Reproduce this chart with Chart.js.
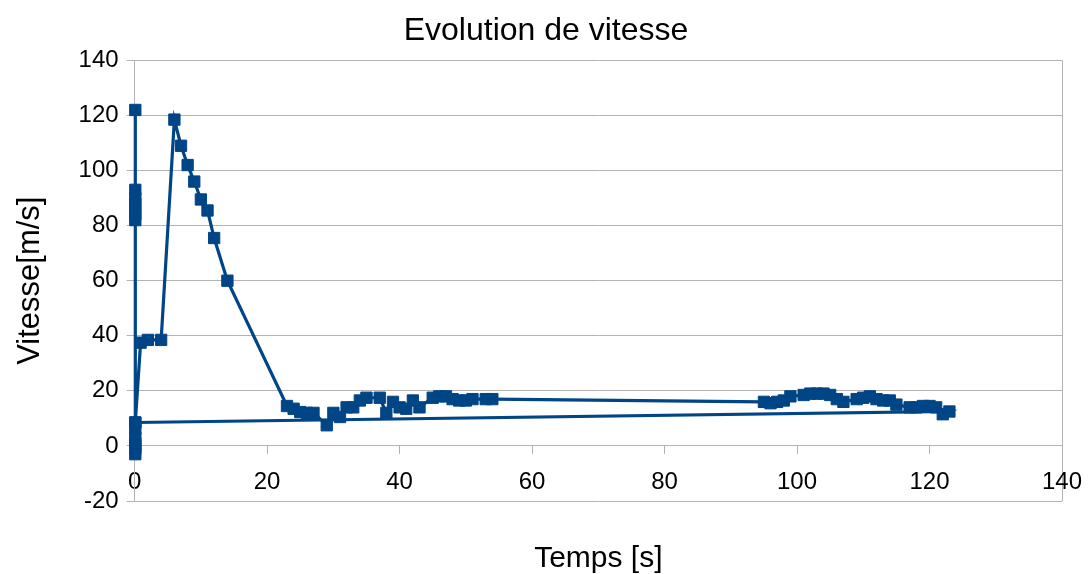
<!DOCTYPE html>
<html>
<head>
<meta charset="utf-8">
<script src="https://cdn.jsdelivr.net/npm/chart.js@4/dist/chart.umd.min.js"></script>
<style>
  html, body { margin: 0; padding: 0; background: #ffffff; }
  #wrap { width: 1092px; height: 574px; position: relative; }
</style>
</head>
<body>
<div id="wrap"><canvas id="c" width="1092" height="574"></canvas></div>
<script>
// ---- data ----
const chartTitle = "Evolution de vitesse";
const xTitle = "Temps [s]";
const yTitle = "Vitesse[m/s]";
const temps = [
  0.1, 0.1, 0.1, 0.1, 0.1, 0.1, 0.1, 0.1, 0.1, 0.1, 0.1, 0.1, 0.1, 0.1,
  0.9, 2, 4, 6, 7, 8, 9, 10, 11, 12, 14,
  23, 24, 25, 26, 27, 29, 30, 31, 32, 33, 34, 35, 37, 38, 39, 40, 41, 42, 43,
  45, 46, 47, 48, 49, 50, 51, 53, 54,
  95, 96, 97, 98, 99, 101, 102, 103, 104, 105, 106, 107, 109, 110, 111, 112,
  113, 114, 115, 117, 118, 119, 120, 121, 122, 123,
  0.1
];
const vitesse = [
  0, 122, 93, 88, 84, 82, 90, 86, -3, -1, 1, 3, 6, 8.5,
  37.5, 38.5, 38.5, 118.5, 109, 102, 96, 89.5, 85.5, 75.5, 60,
  14.5, 13.5, 12.3, 12, 12, 7.5, 12, 10.5, 14, 14, 16.5, 17.5, 17.5, 12, 16, 14, 13.5, 16.5, 14,
  17.5, 18, 18, 17, 16.5, 16.5, 17, 17, 17,
  16, 15.5, 16, 16.5, 18, 18.5, 19, 19, 19, 18.5, 17, 16, 17, 17.5, 18, 17,
  16.5, 16.5, 15, 14, 14, 14.5, 14.5, 14, 11.5, 12.5,
  8.5
];
const xTicks = [0, 20, 40, 60, 80, 100, 120, 140];
const yTicks = [-20, 0, 20, 40, 60, 80, 100, 120, 140];

// ---- chart ----
const points = temps.map((t, i) => ({ x: t, y: vitesse[i] }));
const BLUE = '#004586';
const GRID = '#b3b3b3';
const FONT = "'Liberation Sans', Arial, sans-serif";

new Chart(document.getElementById('c'), {
  type: 'scatter',
  data: {
    datasets: [{
      label: yTitle,
      data: points,
      showLine: true,
      clip: false,
      borderColor: BLUE,
      backgroundColor: BLUE,
      borderWidth: 3.2,
      tension: 0,
      pointStyle: 'rect',
      pointRadius: 8,
      pointHoverRadius: 8,
      pointBackgroundColor: BLUE,
      pointBorderColor: BLUE,
      pointBorderWidth: 1
    }]
  },
  options: {
    responsive: false,
    animation: false,
    events: [],
    layout: { padding: { left: 0, right: 0, top: 0, bottom: 73 } },
    plugins: {
      legend: { display: false },
      tooltip: { enabled: false },
      title: {
        display: true,
        text: chartTitle,
        color: '#000000',
        font: { family: FONT, size: 32, weight: 'normal' },
        padding: { top: 12, bottom: 10 }
      }
    },
    scales: {
      x: {
        type: 'linear',
        position: { y: 0 },
        min: xTicks[0],
        max: xTicks[xTicks.length - 1],
        afterBuildTicks: (s) => { s.ticks = xTicks.map(v => ({ value: v })); },
        afterFit: (s) => { s.paddingLeft = 0; s.paddingRight = 0; },
        ticks: {
          color: '#000000',
          font: { family: FONT, size: 24 },
          padding: 14,
          maxRotation: 0
        },
        grid: {
          color: (ctx) => (ctx.tick && ctx.tick.value === 140) ? GRID : 'rgba(0,0,0,0)',
          tickColor: GRID,
          tickLength: 8,
          lineWidth: 1
        },
        border: { color: GRID, width: 1 },
        title: {
          display: true,
          text: xTitle,
          color: '#000000',
          font: { family: FONT, size: 30 },
          padding: { top: 30, bottom: 0 }
        }
      },
      y: {
        type: 'linear',
        min: yTicks[0],
        max: yTicks[yTicks.length - 1],
        afterBuildTicks: (s) => { s.ticks = yTicks.map(v => ({ value: v })); },
        ticks: {
          color: '#000000',
          font: { family: FONT, size: 24 },
          padding: 8
        },
        grid: { color: GRID, tickColor: GRID, tickLength: 8, lineWidth: 1 },
        border: { color: GRID, width: 1 },
        title: {
          display: true,
          text: yTitle,
          color: '#000000',
          font: { family: FONT, size: 31 },
          padding: { top: 11.4, bottom: 22 }
        }
      },
      yRight: {
        type: 'linear',
        position: 'right',
        min: yTicks[0],
        max: yTicks[yTicks.length - 1],
        ticks: { display: false },
        grid: { display: false },
        border: { display: false },
        afterFit: (s) => { s.width = 30; }
      }
    }
  }
});
</script>
</body>
</html>
